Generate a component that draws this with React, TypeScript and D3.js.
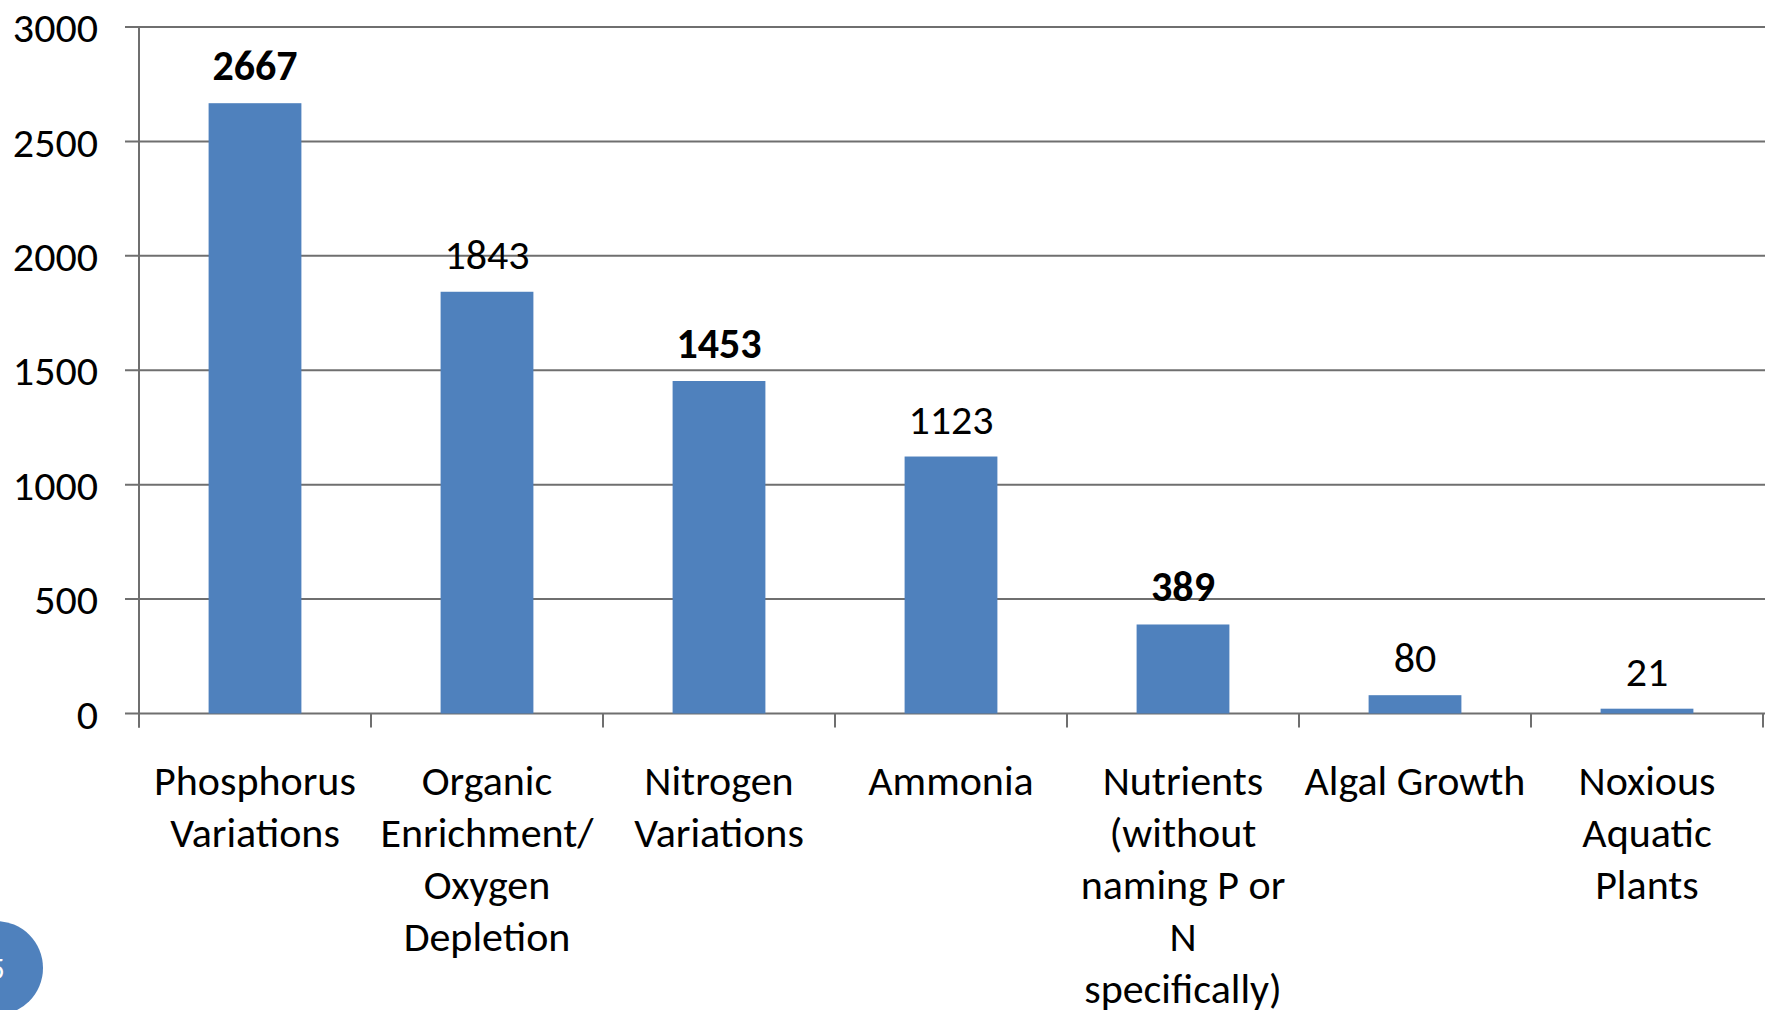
import React from "react";
import * as d3 from "d3";

const categories = [
  "Phosphorus Variations",
  "Organic Enrichment/ Oxygen Depletion",
  "Nitrogen Variations",
  "Ammonia",
  "Nutrients (without naming P or N specifically)",
  "Algal Growth",
  "Noxious Aquatic Plants",
];

// how each axis label breaks over lines
const categoryLines = [
  ["Phosphorus", "Variations"],
  ["Organic", "Enrichment/", "Oxygen", "Depletion"],
  ["Nitrogen", "Variations"],
  ["Ammonia"],
  ["Nutrients", "(without", "naming P or", "N", "specifically)"],
  ["Algal Growth"],
  ["Noxious", "Aquatic", "Plants"],
];

const values = [2667, 1843, 1453, 1123, 389, 80, 21];
const boldLabels = [true, false, true, false, true, false, false];
const yTicks = [0, 500, 1000, 1500, 2000, 2500, 3000];

const W = 1765;
const H = 1010;
const FONT = "Calibri, Carlito, Lato, sans-serif";
const BLUE = "#4f81bd";
const GRID = "#6f6f6f";
const FS = 42;

const App: React.FC = () => {
  const left = 139;
  const right = 1763;
  const top = 27;
  const bottom = 713.5;

  const x = d3
    .scaleBand<string>()
    .domain(categories)
    .range([left, right])
    .paddingInner(0.6)
    .paddingOuter(0.3);

  const y = d3.scaleLinear().domain([0, 3000]).range([bottom, top]);

  const step = x.step();
  // category boundaries for the tick marks
  const boundaries = d3.range(categories.length + 1).map((i) => left + i * step);

  return (
    <svg
      width={W}
      height={H}
      style={{ position: "absolute", left: 0, top: 0, display: "block", background: "#fff" }}
      fontFamily={FONT}
    >
      {/* gridlines + y labels */}
      {yTicks.map((t) => (
        <g key={t}>
          <line x1={left - 14} x2={W} y1={y(t)} y2={y(t)} stroke={GRID} strokeWidth={2} />
          <text x={98} y={y(t)} dy="0.36em" textAnchor="end" fontSize={FS} fill="#000">
            {t}
          </text>
        </g>
      ))}

      {/* y axis */}
      <line x1={left} x2={left} y1={top} y2={bottom + 14} stroke={GRID} strokeWidth={2} />

      {/* x ticks */}
      {boundaries.map((b, i) => (
        <line key={i} x1={b} x2={b} y1={bottom} y2={bottom + 14} stroke={GRID} strokeWidth={2} />
      ))}

      {/* bars */}
      {categories.map((c, i) => (
        <rect
          key={c}
          x={x(c)}
          y={y(values[i])}
          width={x.bandwidth()}
          height={bottom - y(values[i])}
          fill={BLUE}
        />
      ))}

      {/* data labels */}
      {categories.map((c, i) => (
        <text
          key={c}
          x={(x(c) ?? 0) + x.bandwidth() / 2}
          y={y(values[i]) - 23}
          textAnchor="middle"
          fontSize={FS}
          fontWeight={boldLabels[i] ? "bold" : "normal"}
          fill="#000"
        >
          {values[i]}
        </text>
      ))}

      {/* category labels */}
      {categories.map((c, i) => (
        <text key={c} textAnchor="middle" fontSize={FS} fill="#000">
          {categoryLines[i].map((ln, j) => (
            <tspan key={j} x={(x(c) ?? 0) + x.bandwidth() / 2} y={795 + j * 52}>
              {ln}
            </tspan>
          ))}
        </text>
      ))}

      {/* slide number badge */}
      <circle cx={-4} cy={968} r={47} fill={BLUE} />
      <text x={-3} y={979} textAnchor="middle" fontSize={30} fill="#fff">
        5
      </text>
    </svg>
  );
};

export default App;
